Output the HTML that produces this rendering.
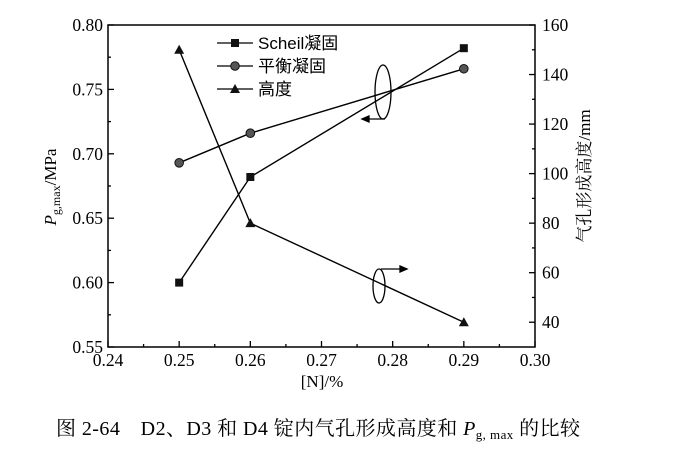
<!DOCTYPE html>
<html><head><meta charset="utf-8">
<style>
body{margin:0;background:#fff;}
svg{display:block;font-family:"Liberation Serif","Noto Serif CJK SC",serif;}
</style></head>
<body>
<svg id="chart" width="700" height="453" viewBox="0 0 700 453" xmlns="http://www.w3.org/2000/svg">
<rect x="0" y="0" width="700" height="453" fill="#fff"/>
<g id="axes"></g>
<g id="series"></g>
<g font-size="17" font-family="Liberation Sans, Noto Sans CJK SC, sans-serif">
  <line x1="217" y1="43" x2="253" y2="43" stroke="#000" stroke-width="1.3"/>
  <rect x="231" y="39" width="8" height="8" fill="#111"/>
  <text x="258" y="49">Scheil凝固</text>
  <line x1="217" y1="66" x2="253" y2="66" stroke="#000" stroke-width="1.3"/>
  <circle cx="235" cy="66" r="4.3" fill="#555" stroke="#111"/>
  <text x="258" y="72">平衡凝固</text>
  <line x1="217" y1="89" x2="253" y2="89" stroke="#000" stroke-width="1.3"/>
  <polygon points="235,84 240,93 230,93" fill="#111"/>
  <text x="258" y="95">高度</text>
</g>
<g fill="none" stroke="#000" stroke-width="1.3">
  <ellipse cx="383" cy="92" rx="8" ry="27"/>
  <path d="M385 119 L362 119"/>
  <path d="M362 119 l7 -3 l0 6 z" fill="#000"/>
</g>
<g fill="none" stroke="#000" stroke-width="1.3">
  <ellipse cx="379" cy="286" rx="6" ry="17"/>
  <path d="M381 269 L407 269"/>
  <path d="M407 269 l-7 -3 l0 6 z" fill="#000"/>
</g>
<text x="322" y="387" font-size="17" text-anchor="middle">[N]/%</text>
<text transform="translate(56,187) rotate(-90)" font-size="17" text-anchor="middle"><tspan font-style="italic">P</tspan><tspan font-size="12" dy="4">g,max</tspan><tspan dy="-4">/MPa</tspan></text>
<text transform="translate(590,176) rotate(-90)" font-size="17" text-anchor="middle">气孔形成高度/mm</text>
<text x="56" y="435" font-size="20" textLength="524">图 2-64　D2、D3 和 D4 锭内气孔形成高度和 <tspan font-style="italic">P</tspan><tspan font-size="13" dy="4">g, max</tspan><tspan dy="-4"> 的比较</tspan></text>
</svg>
<script>
const nValues = [0.25, 0.26, 0.29];
const scheilValues = [0.600, 0.682, 0.782];
const equilibriumValues = [0.693, 0.716, 0.766];
const heightValues = [150, 80, 40];
const xTicks = ["0.24","0.25","0.26","0.27","0.28","0.29","0.30"];
const leftTicks = ["0.55","0.60","0.65","0.70","0.75","0.80"];
const rightTicks = ["40","60","80","100","120","140","160"];

const NS = "http://www.w3.org/2000/svg";
const L = 108, R = 535, T = 25, B = 347;
const xS = v => L + (v - 0.24) / 0.06 * (R - L);
const yL = v => B - (v - 0.55) / 0.25 * (B - T);
const yR = v => B - (v - 30) / 130 * (B - T);
function mk(tag, attrs, parent) {
  const e = document.createElementNS(NS, tag);
  for (const k in attrs) e.setAttribute(k, attrs[k]);
  parent.appendChild(e);
  return e;
}
const axes = document.getElementById("axes");
const series = document.getElementById("series");
const frame = mk("rect", {x:L, y:T, width:R-L, height:B-T, fill:"none", stroke:"#000", "stroke-width":1.5}, axes);



for (let i = 0; i <= 12; i++) {
  const v = 0.24 + i * 0.005, x = xS(v), len = i % 2 ? 3 : 6;
  const t = mk("line", {x1:x, y1:B, x2:x, y2:B-len, stroke:"#000", "stroke-width":1.3}, axes);
  
  
}
xTicks.forEach(s => {
  const t = mk("text", {x:xS(parseFloat(s)), y:B+19, "font-size":17.5, "text-anchor":"middle"}, axes);
  t.textContent = s;
  
  
});
for (let i = 0; i <= 10; i++) {
  const v = 0.55 + i * 0.025, y = yL(v), len = i % 2 ? 3 : 6;
  const t = mk("line", {x1:L, y1:y, x2:L+len, y2:y, stroke:"#000", "stroke-width":1.3}, axes);
  
  
}
leftTicks.forEach(s => {
  const t = mk("text", {x:L-5, y:yL(parseFloat(s))+6, "font-size":17.5, "text-anchor":"end"}, axes);
  t.textContent = s;
  
  
});
for (let v = 40; v <= 160; v += 10) {
  const y = yR(v), len = v % 20 ? 3 : 6;
  const t = mk("line", {x1:R, y1:y, x2:R-len, y2:y, stroke:"#000", "stroke-width":1.3}, axes);
  
  
}
rightTicks.forEach(s => {
  const t = mk("text", {x:R+7, y:yR(parseFloat(s))+6, "font-size":17.5}, axes);
  t.textContent = s;
  
  
});

function line(vals, yf, name) {
  const pts = vals.map((v, i) => xS(nValues[i]) + "," + yf(v)).join(" ");
  const p = mk("polyline", {points:pts, fill:"none", stroke:"#000", "stroke-width":1.4}, series);
  
  
}
line(scheilValues, yL, 'scheil-line');
line(equilibriumValues, yL, 'equilibrium-line');
line(heightValues, yR, 'height-line');
scheilValues.forEach((v, i) => {
  const m = mk("rect", {x:xS(nValues[i])-4, y:yL(v)-4, width:8, height:8, fill:"#111"}, series);
  
  
});
equilibriumValues.forEach((v, i) => {
  const m = mk("circle", {cx:xS(nValues[i]), cy:yL(v), r:4.3, fill:"#555", stroke:"#111"}, series);
  
  
});
heightValues.forEach((v, i) => {
  const x = xS(nValues[i]), y = yR(v);
  const m = mk("polygon", {points:`${x},${y-5} ${x+5},${y+4} ${x-5},${y+4}`, fill:"#111"}, series);
  
  
});
</script>
</body></html>
